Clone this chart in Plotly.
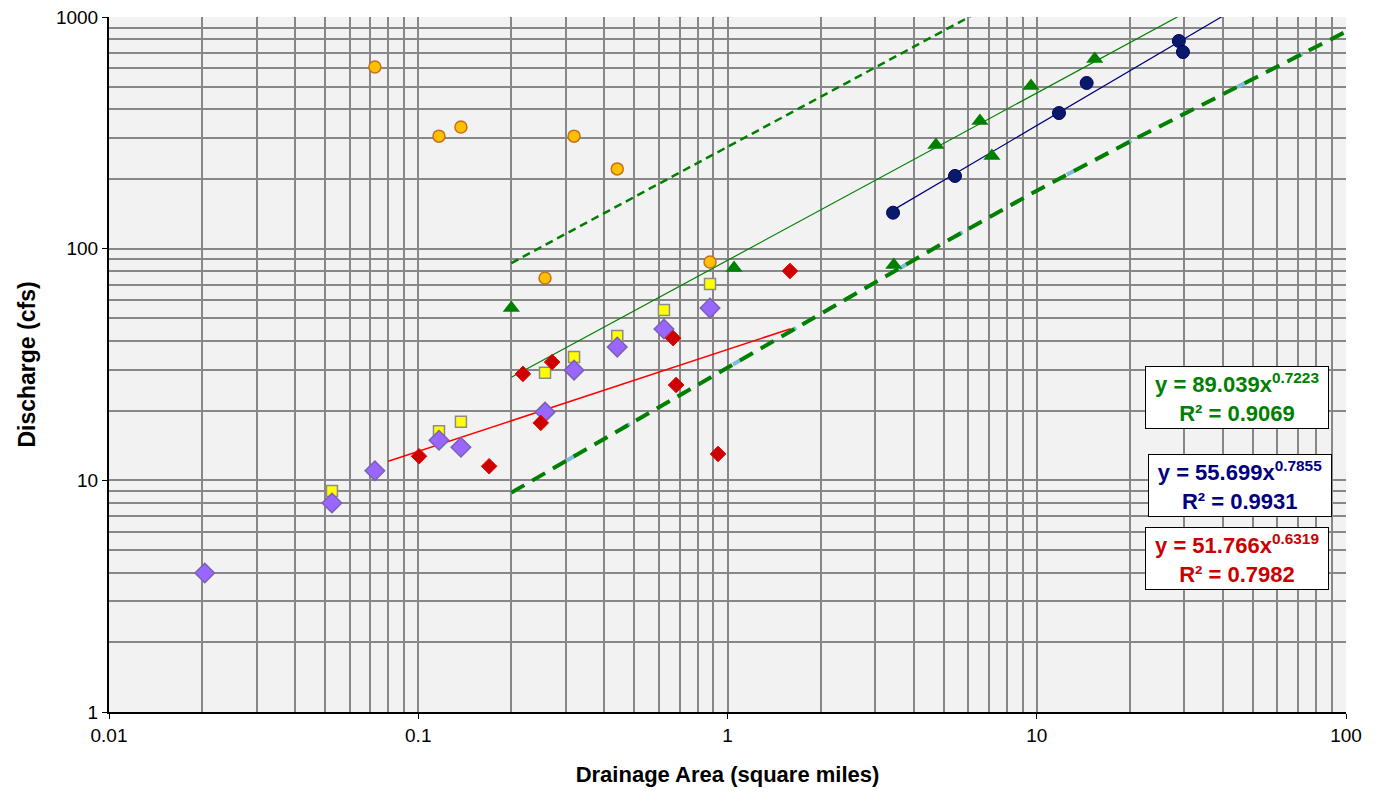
import numpy as np
import plotly.graph_objects as go

# ---------------- data ----------------
orange_x = [0.0724, 0.1167, 0.1374, 0.319, 0.440, 0.257, 0.878]
orange_y = [608, 306, 335, 306, 221, 74.7, 87.6]

yellow_x = [0.0526, 0.1167, 0.1374, 0.257, 0.319, 0.440, 0.623, 0.878]
yellow_y = [9.0, 16.3, 17.9, 29.1, 34.1, 42.0, 54.4, 70.4]

purple_x = [0.0204, 0.0526, 0.0724, 0.1167, 0.1374, 0.257, 0.319, 0.440, 0.623, 0.878]
purple_y = [3.98, 7.98, 11.0, 14.9, 13.9, 19.7, 29.9, 37.6, 45.0, 55.4]

red_x = [0.1006, 0.1695, 0.218, 0.249, 0.271, 0.667, 0.682, 0.932, 1.592]
red_y = [12.7, 11.5, 28.8, 17.7, 32.4, 41.1, 25.8, 13.0, 80.1]

green_x = [0.2, 1.05, 3.45, 4.72, 6.55, 7.16, 9.58, 15.4]
green_y = [55.4, 82.5, 85, 280, 356, 251, 504, 659]

navy_x = [3.43, 5.44, 11.8, 14.5, 28.8, 29.7]
navy_y = [143, 206, 385, 519, 788, 706]

# regional curve (thick green dashed)
curve_x = [0.2, 1, 5, 10, 20, 50, 100]
curve_y = [8.85, 30.7, 106, 178, 290, 540, 865]

# power-law lines: (a, b, xmin, xmax) for y = a * x^b
green_fit = (89.039, 0.7223, 0.2, 30)
navy_fit = (55.699, 0.7855, 3.43, 40)
red_fit = (36.7, 0.44, 0.08, 1.6)
upper_fit = (275, 0.7176, 0.2, 6.1)

eq_green = ("y = 89.039x<sup>0.7223</sup>", "R² = 0.9069")
eq_navy = ("y = 55.699x<sup>0.7855</sup>", "R² = 0.9931")
eq_red = ("y = 51.766x<sup>0.6319</sup>", "R² = 0.7982")

x_ticks = [0.01, 0.1, 1, 10, 100]
y_ticks = [1, 10, 100, 1000]

FONT = "Arial, Liberation Sans, sans-serif"


def power_line(fit, n=60):
    a, b, x0, x1 = fit
    xs = np.logspace(np.log10(x0), np.log10(x1), n)
    return xs, a * xs ** b


fig = go.Figure()

# regional curve: light blue underneath, thick green dashes on top
fig.add_trace(go.Scatter(x=curve_x, y=curve_y, mode="lines",
                         line=dict(color="#7fbcd6", width=4, dash="9px,55px"),
                         showlegend=False, hoverinfo="skip"))
fig.add_trace(go.Scatter(x=curve_x, y=curve_y, mode="lines",
                         line=dict(color="#008000", width=4, dash="15px,9px"),
                         showlegend=False, hoverinfo="skip"))

ux, uy = power_line(upper_fit)
fig.add_trace(go.Scatter(x=ux, y=uy, mode="lines",
                         line=dict(color="#008000", width=2.5, dash="8px,5px"),
                         showlegend=False, hoverinfo="skip"))

gx, gy = power_line(green_fit)
fig.add_trace(go.Scatter(x=gx, y=gy, mode="lines",
                         line=dict(color="#008000", width=1.2),
                         showlegend=False, hoverinfo="skip"))

nx, ny = power_line(navy_fit)
fig.add_trace(go.Scatter(x=nx, y=ny, mode="lines",
                         line=dict(color="#000080", width=1.2),
                         showlegend=False, hoverinfo="skip"))

rx, ry = power_line(red_fit)
fig.add_trace(go.Scatter(x=rx, y=ry, mode="lines",
                         line=dict(color="#ff0000", width=1.5),
                         showlegend=False, hoverinfo="skip"))

# markers
fig.add_trace(go.Scatter(x=orange_x, y=orange_y, mode="markers",
                         marker=dict(symbol="circle", size=12, color="#ffc000",
                                     line=dict(color="#c8701e", width=1.5)),
                         showlegend=False))
fig.add_trace(go.Scatter(x=yellow_x, y=yellow_y, mode="markers",
                         marker=dict(symbol="square", size=11, color="#ffff00",
                                     line=dict(color="#8c8c8c", width=1.5)),
                         showlegend=False))
fig.add_trace(go.Scatter(x=purple_x, y=purple_y, mode="markers",
                         marker=dict(symbol="diamond", size=15, color="#9966ff",
                                     line=dict(color="#7a62b0", width=1.5)),
                         showlegend=False))
fig.add_trace(go.Scatter(x=red_x, y=red_y, mode="markers",
                         marker=dict(symbol="diamond", size=12, color="#cc0000",
                                     line=dict(color="#ee0000", width=1)),
                         showlegend=False))
fig.add_trace(go.Scatter(x=green_x, y=green_y, mode="markers",
                         marker=dict(symbol="triangle-up", size=15, color="#008000",
                                     line=dict(width=0)),
                         showlegend=False))
fig.add_trace(go.Scatter(x=navy_x, y=navy_y, mode="markers",
                         marker=dict(symbol="circle", size=13, color="#0a1a6b",
                                     line=dict(color="#000066", width=1)),
                         showlegend=False))

x_minor = [k * 10.0 ** e for e in range(-2, 2) for k in range(2, 10)]
y_minor = [k * 10.0 ** e for e in range(0, 3) for k in range(2, 10)]

grid_col = "#878787"
fig.update_xaxes(type="log", range=[-2, 2], tickvals=x_ticks,
                 ticktext=[str(v) for v in x_ticks],
                 showgrid=True, gridcolor=grid_col, gridwidth=2,
                 minor=dict(tickvals=x_minor, showgrid=True, gridcolor=grid_col,
                            gridwidth=1.5, ticks=""),
                 showline=True, linecolor="black", linewidth=2,
                 ticks="outside", ticklen=5, tickcolor="black",
                 tickfont=dict(family=FONT, size=19, color="black"),
                 ticklabeloverflow="allow", automargin=False,
                 title=dict(text="<b>Drainage Area (square miles)</b>",
                            font=dict(family=FONT, size=22, color="black"),
                            standoff=22),
                 zeroline=False)
fig.update_yaxes(type="log", range=[0, 3], tickvals=y_ticks,
                 ticktext=[str(v) for v in y_ticks],
                 showgrid=True, gridcolor=grid_col, gridwidth=2,
                 minor=dict(tickvals=y_minor, showgrid=True, gridcolor=grid_col,
                            gridwidth=1.5, ticks=""),
                 showline=True, linecolor="black", linewidth=2,
                 ticks="outside", ticklen=5, tickcolor="black",
                 tickfont=dict(family=FONT, size=19, color="black"),
                 ticklabeloverflow="allow", automargin=False,
                 title=dict(text="<b>Discharge (cfs)</b>",
                            font=dict(family=FONT, size=23, color="black"),
                            standoff=14),
                 zeroline=False)


def eq_box(lines, color, x, y):
    fig.add_annotation(xref="paper", yref="paper", x=x, y=y,
                       xanchor="center", yanchor="middle", showarrow=False,
                       text="<b>" + lines[0] + "<br>" + lines[1] + "</b>",
                       font=dict(family=FONT, size=22, color=color),
                       align="center", bgcolor="white", bordercolor="black",
                       borderwidth=1, borderpad=2, width=178)


eq_box(eq_green, "#008000", 0.912, 0.4525)
eq_box(eq_navy, "#000080", 0.914, 0.326)
eq_box(eq_red, "#cc0000", 0.912, 0.221)

fig.update_layout(width=1380, height=793,
                  margin=dict(l=109, r=34, t=17, b=81),
                  plot_bgcolor="#f2f2f2", paper_bgcolor="white",
                  showlegend=False, font=dict(family=FONT))

# remove the default 8px page margin so the figure sits at the window origin
fig.write_html("out.html",
               config={"displayModeBar": False},
               post_script="document.body.style.margin='0px';"
                           "document.body.style.overflow='hidden';")
